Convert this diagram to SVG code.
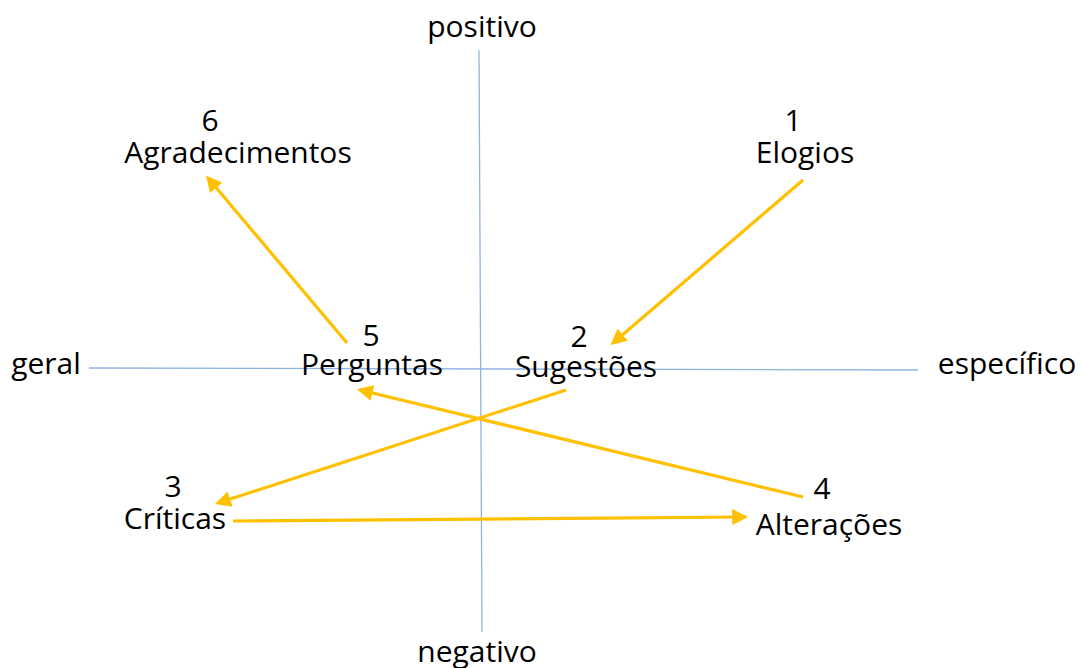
<svg xmlns="http://www.w3.org/2000/svg" width="1081" height="668" viewBox="0 0 1081 668">
<defs>
<style>
text{font-family:"Open Sans","Liberation Sans",sans-serif;font-size:30px;fill:#000;text-anchor:middle}
.axis{stroke:#8DB4E2;stroke-width:1.3;fill:none}
.arr{stroke:#FFC000;stroke-width:3.2;fill:none;marker-end:url(#ah)}
</style>
<marker id="ah" viewBox="0 0 10 10" refX="8" refY="5" markerWidth="5" markerHeight="5" orient="auto" markerUnits="strokeWidth">
<path d="M0,0 L10,5 L0,10 z" fill="#FFC000"/>
</marker>
</defs>
<rect width="1081" height="668" fill="#fff"/>
<g id="axes">
<line class="axis" x1="89" y1="368" x2="918" y2="370"/>
<line class="axis" x1="479" y1="50" x2="482" y2="632"/>
</g>
<g id="axis-labels">
<text x="482" y="37">positivo</text>
<text x="477" y="662">negativo</text>
<text x="46" y="374">geral</text>
<text x="1007" y="374">específico</text>
</g>
<g id="node1"><text x="793" y="131">1</text><text x="805" y="163">Elogios</text></g>
<g id="node2"><text x="579" y="347">2</text><text x="586" y="377">Sugestões</text></g>
<g id="node3"><text x="173" y="497">3</text><text x="175" y="529">Críticas</text></g>
<g id="node4"><text x="822" y="499">4</text><text x="829" y="535">Alterações</text></g>
<g id="node5"><text x="371" y="346">5</text><text x="372" y="375">Perguntas</text></g>
<g id="node6"><text x="210" y="131">6</text><text x="238" y="163">Agradecimentos</text></g>
<g id="connectors">
<line class="arr" x1="803" y1="180" x2="613" y2="343"/>
<line class="arr" x1="347" y1="343" x2="208" y2="178"/>
<line class="arr" x1="566" y1="390" x2="218" y2="503"/>
<line class="arr" x1="803" y1="497" x2="360" y2="390"/>
<line class="arr" x1="233" y1="521" x2="745" y2="517"/>
</g>
</svg>
